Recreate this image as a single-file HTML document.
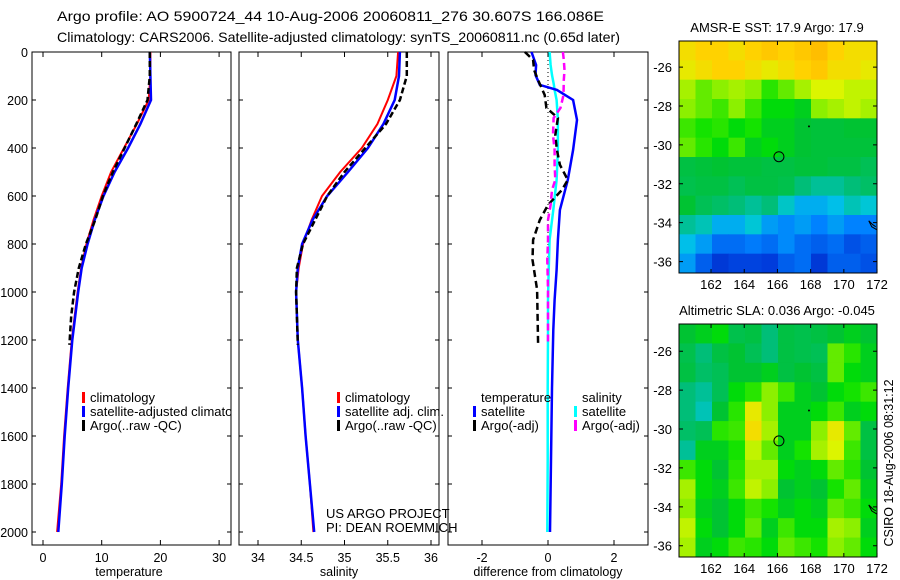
<!DOCTYPE html>
<html><head><meta charset="utf-8"><style>
body{margin:0;background:#fff;}
svg{display:block;font-family:"Liberation Sans",sans-serif;}
</style></head><body>
<svg id="s" width="900" height="580" viewBox="0 0 900 580" xmlns="http://www.w3.org/2000/svg">
<defs><clipPath id="c1"><rect x="32" y="52" width="199" height="493"/></clipPath></defs>
<text x="57" y="21" font-size="14" textLength="547" lengthAdjust="spacingAndGlyphs">Argo profile: AO 5900724_44 10-Aug-2006 20060811_276 30.607S 166.086E</text>
<text x="57" y="42" font-size="14" textLength="563" lengthAdjust="spacingAndGlyphs">Climatology: CARS2006. Satellite-adjusted climatology: synTS_20060811.nc (0.65d later)</text>
<g id="g"></g>
</svg>
<script>
// ---- data ----
const depthsT = [0,100,200,300,400,500,600,700,800,900,1000,1200,1400,1600,1800,2000];
const tempClim = [18.3,18.3,18.0,16.0,13.8,11.6,10.0,8.6,7.4,6.5,5.9,4.9,4.2,3.6,3.1,2.4];
const tempSat  = [18.2,18.3,18.4,16.6,14.5,12.2,10.3,8.8,7.6,6.6,6.0,5.0,4.3,3.7,3.2,2.6];
const depthsA = [0,100,200,300,400,500,600,700,800,900,1000,1100,1220];
const tempArgo = [18.2,18.2,17.8,15.9,13.9,11.9,10.2,8.9,7.3,6.1,5.3,4.8,4.5];
const salClim = [35.62,35.60,35.50,35.38,35.20,34.95,34.74,34.62,34.52,34.47,34.44,34.46,34.51,34.55,34.60,34.64];
const salSat  = [35.64,35.63,35.58,35.45,35.27,35.04,34.80,34.63,34.51,34.46,34.44,34.46,34.51,34.55,34.60,34.65];
const salArgo = [35.72,35.72,35.64,35.48,35.24,35.00,34.80,34.66,34.52,34.45,34.44,34.45,34.46];
const depthsD = [0,54,96,137,158,200,283,408,533,658,783,908,1033,1158,1400,1700,2000];
const dTempSat = [-0.5,-0.36,-0.38,-0.25,0.27,0.76,0.88,0.76,0.6,0.36,0.3,0.26,0.2,0.16,0.12,0.09,0.06];
const dSalSat  = [0.05,0.08,0.12,0.18,0.2,0.26,0.3,0.3,0.26,0.16,0.05,0.02,0.0,0.0,-0.01,-0.01,-0.02];
const depthsDA = [0,33,75,117,179,233,275,346,408,470,533,575,637,700,783,866,991,1220];
const dTempArgo = [-0.7,-0.45,-0.42,-0.3,-0.1,-0.05,0.3,0.22,0.27,0.36,0.6,0.42,0.0,-0.25,-0.45,-0.47,-0.33,-0.3];
const dSalArgo  = [0.45,0.48,0.5,0.48,0.47,0.38,0.17,0.15,0.2,0.2,0.22,0.12,0.08,0.0,0.0,-0.02,0.0,0.0];
const depthTicks = [0,200,400,600,800,1000,1200,1400,1600,1800,2000];
const tTicks = [0,10,20,30];
const sTicks = ["34","34.5","35","35.5","36"];
const dTicks = [-2,0,2];
const lonTicks = [162,164,166,168,170,172];
const latTicks = [-26,-28,-30,-32,-34,-36];
const sstGrid = [
[.70,.72,.72,.70,.72,.74,.72,.74,.76,.72,.70,.70],
[.68,.70,.72,.72,.70,.68,.70,.72,.74,.70,.70,.68],
[.62,.58,.60,.62,.60,.55,.58,.62,.66,.66,.64,.64],
[.60,.58,.56,.60,.56,.52,.52,.50,.60,.62,.64,.62],
[.56,.54,.55,.52,.54,.50,.50,.48,.47,.47,.48,.48],
[.58,.55,.52,.56,.50,.52,.50,.48,.47,.47,.47,.47],
[.46,.47,.48,.47,.47,.46,.46,.47,.47,.46,.46,.44],
[.45,.46,.46,.44,.46,.46,.45,.40,.38,.38,.40,.42],
[.48,.44,.42,.40,.38,.40,.35,.30,.30,.32,.36,.34],
[.38,.36,.30,.30,.34,.28,.26,.28,.25,.28,.25,.25],
[.32,.28,.22,.22,.24,.22,.26,.22,.20,.22,.18,.20],
[.28,.20,.14,.16,.16,.15,.20,.22,.14,.20,.20,.18]];
const slaGrid = [
[.48,.50,.52,.45,.46,.40,.46,.45,.46,.48,.50,.48],
[.45,.40,.46,.48,.44,.40,.46,.45,.44,.58,.55,.50],
[.46,.42,.44,.48,.48,.50,.46,.48,.46,.58,.52,.50],
[.40,.38,.44,.52,.55,.60,.56,.50,.48,.52,.54,.56],
[.40,.36,.48,.55,.68,.60,.50,.50,.52,.56,.50,.52],
[.42,.44,.55,.56,.70,.62,.50,.50,.60,.68,.58,.46],
[.38,.50,.50,.54,.64,.58,.50,.54,.62,.66,.56,.46],
[.56,.52,.48,.55,.62,.62,.52,.50,.52,.58,.55,.48],
[.62,.52,.50,.56,.64,.60,.48,.50,.48,.54,.58,.50],
[.60,.50,.48,.52,.56,.54,.50,.52,.50,.58,.56,.52],
[.64,.52,.48,.52,.58,.50,.56,.52,.52,.62,.60,.50],
[.62,.50,.52,.56,.55,.52,.58,.56,.54,.60,.58,.52]];
const floatPos = [166.09,-30.61];
// ---- drawing ----
const NS="http://www.w3.org/2000/svg", G=document.getElementById('g');
function mk(t,a,p){const e=document.createElementNS(NS,t);for(const k in a)e.setAttribute(k,a[k]);(p||G).appendChild(e);return e;}
const Y=d=>52+d*0.24;
const panels=[
 {x0:32,x1:231,v0:0,px:43,sc:5.87},
 {x0:239,x1:439,v0:34,px:258,sc:86.5},
 {x0:448,x1:648,v0:0,px:548,sc:33}];
const X=(i,v)=>panels[i].px+(v-panels[i].v0)*panels[i].sc;
function line(i,ds,vs,col,w,dash,name){
 let d='';ds.forEach((z,k)=>{d+=(k?'L':'M')+X(i,vs[k]).toFixed(1)+','+Y(z).toFixed(1);});
 const e=mk('path',{d:d,fill:'none',stroke:col,'stroke-width':w});
 if(dash)e.setAttribute('stroke-dasharray',dash);
 
 
}
function txt(x,y,s,fs,anchor,name,p){const e=mk('text',{x:x,y:y,'font-size':fs,'text-anchor':anchor||'start'},p);e.textContent=s;
 
 return e;}
panels.forEach((p,i)=>{
 const r=mk('rect',{x:p.x0,y:52,width:p.x1-p.x0,height:493,fill:'none',stroke:'#000','stroke-width':1});
 
 
 depthTicks.forEach(d=>{mk('path',{d:`M${p.x0},${Y(d)}h4M${p.x1},${Y(d)}h-4`,stroke:'#000'});});
});
depthTicks.forEach(d=>txt(28,Y(d)+5,String(d),12.5,'end','depth-tick-label'));
tTicks.forEach(v=>{const x=X(0,v);mk('path',{d:`M${x},52v5M${x},545v-5`,stroke:'#000'});txt(x,562,String(v),12.5,'middle','temperature-tick-label');});
sTicks.forEach(v=>{const x=X(1,+v);mk('path',{d:`M${x},52v5M${x},545v-5`,stroke:'#000'});txt(x,562,v,12.5,'middle','salinity-tick-label');});
dTicks.forEach(v=>{const x=X(2,v);mk('path',{d:`M${x},52v5M${x},545v-5`,stroke:'#000'});txt(x,562,String(v),12.5,'middle','difference-tick-label');});
txt(129,576,'temperature',12.5,'middle','x-axis-title-temperature');
txt(339,576,'salinity',12.5,'middle','x-axis-title-salinity');
txt(548,576,'difference from climatology',12.5,'middle','x-axis-title-difference');
const z=mk('path',{d:`M${X(2,0)},52V${Y(2000)}`,stroke:'#000','stroke-dasharray':'1,3'});


line(0,depthsT,tempClim,'#f00',2,null,'temp-climatology-line');
line(0,depthsT,tempSat,'#00f',2.5,null,'temp-satellite-line');
line(0,depthsA,tempArgo,'#000',2.5,'6,3','temp-argo-line');
line(1,depthsT,salClim,'#f00',2,null,'sal-climatology-line');
line(1,depthsT,salSat,'#00f',2.5,null,'sal-satellite-line');
line(1,depthsA,salArgo,'#000',2.5,'6,3','sal-argo-line');
line(2,depthsD,dSalSat,'#0ff',2.5,null,'diff-sal-satellite-line');
line(2,depthsD,dTempSat,'#00f',2.5,null,'diff-temp-satellite-line');
line(2,depthsDA,dTempArgo,'#000',2.5,'7,4','diff-temp-argo-line');
line(2,depthsDA,dSalArgo,'#f0f',2.5,'7,4','diff-sal-argo-line');
// legends
const clipG=mk('g',{'clip-path':'url(#c1)'});
function leg(x,y,col,s,name,p){mk('rect',{x:x,y:y-10,width:3,height:11,fill:col},p);txt(x+8,y,s,13,'start',name,p);}
leg(82,402,'#f00','climatology','legend-climatology',clipG);
leg(82,416,'#00f','satellite-adjusted climatology','legend-satellite',clipG);
leg(82,430,'#000','Argo(..raw -QC)','legend-argo',clipG);
leg(337,402,'#f00','climatology','legend2-climatology');
leg(337,416,'#00f','satellite adj. clim.','legend2-satellite');
leg(337,430,'#000','Argo(..raw -QC)','legend2-argo');
txt(481,402,'temperature',13,'start','legend3-temperature-header');
leg(473,416,'#00f','satellite','legend3-temp-satellite');
leg(473,430,'#000','Argo(-adj)','legend3-temp-argo');
txt(582,402,'salinity',13,'start','legend3-salinity-header');
leg(574,416,'#0ff','satellite','legend3-sal-satellite');
leg(574,430,'#f0f','Argo(-adj)','legend3-sal-argo');
txt(326,518,'US ARGO PROJECT',13,'start','credit-project');
txt(326,532,'PI: DEAN ROEMMICH',13,'start','credit-pi');
// colormap
const cmStops=[[0,0,20,140],[.15,0,60,220],[.25,0,130,255],[.33,0,200,230],[.40,0,190,120],[.48,0,195,50],[.53,0,225,0],[.60,140,240,0],[.66,220,245,0],[.72,255,210,0],[.80,255,170,0],[1,255,120,0]];
function cmap(v){for(let i=1;i<cmStops.length;i++){const a=cmStops[i-1],b=cmStops[i];if(v<=b[0]){const t=(v-a[0])/(b[0]-a[0]);return `rgb(${(a[1]+t*(b[1]-a[1]))|0},${(a[2]+t*(b[2]-a[2]))|0},${(a[3]+t*(b[3]-a[3]))|0})`;}}return 'rgb(255,120,0)';}
function map(top,bottom,latTop,grid,title,name){
 const x0=679,x1=877,y0=top,y1=bottom;
 const LX=lon=>x0+(lon-160.07)*16.6, LY=lat=>y0+(latTop-lat)*19.45;
 const rows=grid.length,cols=grid[0].length,cw=(x1-x0)/cols,ch=(y1-y0)/rows;
 grid.forEach((row,r)=>row.forEach((v,c)=>{mk('rect',{x:x0+c*cw,y:y0+r*ch,width:cw+0.5,height:ch+0.5,fill:cmap(v)});}));
 const b=mk('rect',{x:x0,y:y0,width:x1-x0,height:y1-y0,fill:'none',stroke:'#000'});
 
 
 lonTicks.forEach(l=>{const x=LX(l);mk('path',{d:`M${x},${y0}v4M${x},${y1}v-4`,stroke:'#000'});txt(x,y1+16,String(l),13,'middle','lon-tick-label');});
 latTicks.forEach(l=>{const y=LY(l);mk('path',{d:`M${x0},${y}h4M${x1},${y}h-4`,stroke:'#000'});txt(672,y+5,String(l),13,'end','lat-tick-label');});
 txt(777,y0-9,title,13,'middle',name+'-title');
 const c=mk('circle',{cx:LX(floatPos[0]),cy:LY(floatPos[1]),r:5,fill:'none',stroke:'#000'});
 
 
 mk('circle',{cx:LX(167.9),cy:LY(-29.05),r:1,fill:'#000'});
 mk('path',{d:`M${LX(171.5)},${LY(-33.9)}l4,4l3,2M${LX(171.5)},${LY(-33.9)}l3,6l5,3`,stroke:'#000',fill:'none'});
}
map(41,273,-24.66,sstGrid,'AMSR-E SST: 17.9 Argo: 17.9','sst-map');
map(324,557,-24.6,slaGrid,'Altimetric SLA: 0.036 Argo: -0.045','sla-map');
const v=txt(0,0,'CSIRO 18-Aug-2006 08:31:12',13,'middle','timestamp-label');
v.setAttribute('textLength','167');
v.setAttribute('lengthAdjust','spacingAndGlyphs');
v.setAttribute('transform','translate(893,463) rotate(-90)');
</script>
</body></html>
